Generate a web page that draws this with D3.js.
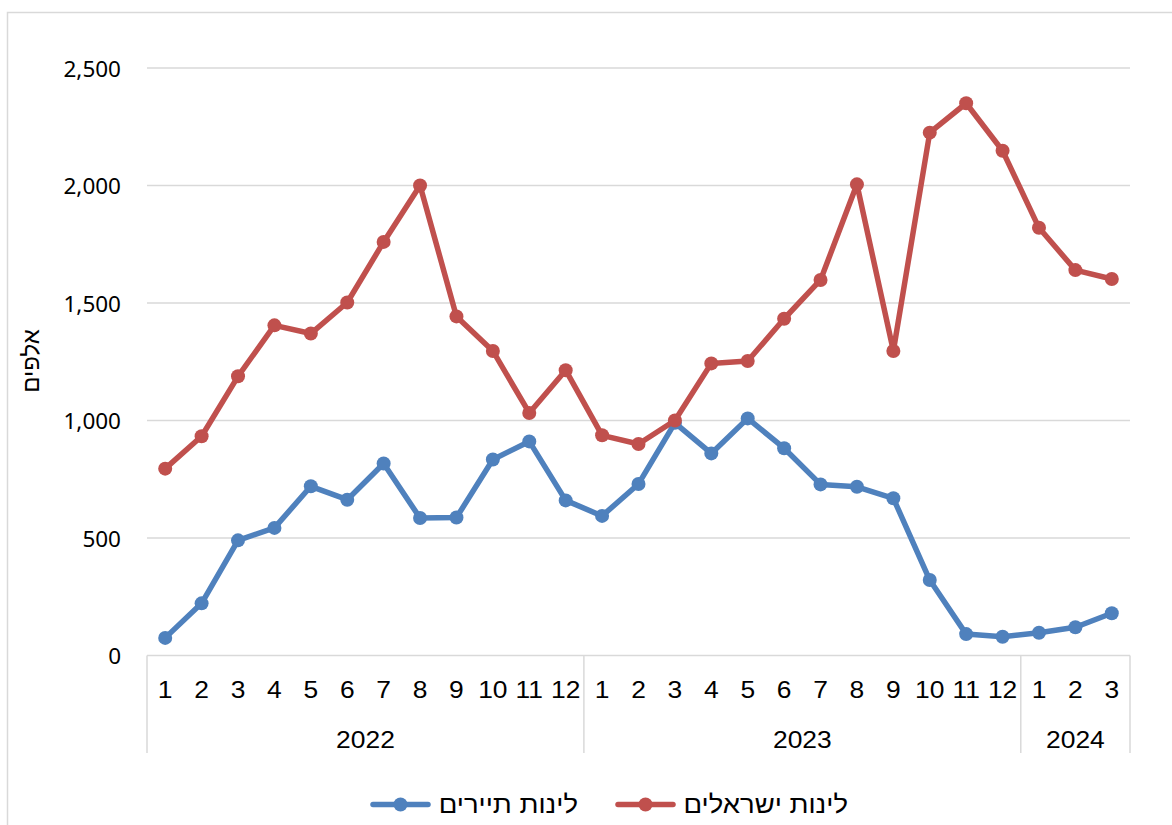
<!DOCTYPE html>
<html>
<head>
<meta charset="utf-8">
<script src="https://cdn.jsdelivr.net/npm/d3@7"></script>
<style>
  html, body { margin: 0; padding: 0; background: #fff; }
  svg { display: block; }
</style>
</head>
<body>
<svg id="chart" width="1172" height="825"></svg>
<script>
// ---- data ----
const years = ["2022", "2023", "2024"];
const monthsPerYear = [12, 12, 3];
const monthLabels = ["1","2","3","4","5","6","7","8","9","10","11","12",
                     "1","2","3","4","5","6","7","8","9","10","11","12",
                     "1","2","3"];
const seriesNames = ["לינות תיירים", "לינות ישראלים"];
const tourists = [75, 222, 490, 543, 720, 663, 817, 585, 587, 834, 911, 660,
                  594, 730, 990, 860, 1009, 882, 728, 718, 669, 321, 91, 80,
                  97, 120, 180];
const israelis = [795, 933, 1188, 1405, 1370, 1502, 1760, 2000, 1443, 1296, 1032, 1214,
                  937, 900, 1000, 1243, 1253, 1433, 1598, 2005, 1296, 2225, 2350, 2148,
                  1820, 1640, 1602];
const yTicks = [0, 500, 1000, 1500, 2000, 2500];
const yTitle = "אלפים";

(function () {
// ---- layout ----
const svg = d3.select("#chart");
const pLeft = 147, pRight = 1130, pTop = 68, pBottom = 655.5;
const colors = ["#4F81BD", "#C0504D"];
const gridColor = "#D9D9D9";
const font = "'Liberation Sans', Arial, sans-serif";
const stretch = 1.1;

// outer border
svg.append("rect").attr("x", 7.5).attr("y", 12.5).attr("width", 1200).attr("height", 900)
  .attr("fill", "none").attr("stroke", gridColor).attr("stroke-width", 1.5);

const idx = d3.range(monthLabels.length);
const x = d3.scaleBand().domain(idx).range([pLeft, pRight]).paddingInner(0).paddingOuter(0);
const cx = i => x(i) + x.bandwidth() / 2;
const y = d3.scaleLinear().domain([0, 2500]).range([pBottom, pTop]);

// gridlines
svg.append("g").selectAll("line").data(yTicks.filter(d => d > 0)).join("line")
  .attr("x1", pLeft).attr("x2", pRight)
  .attr("y1", d => y(d)).attr("y2", d => y(d))
  .attr("stroke", gridColor).attr("stroke-width", 1.5);

// y axis labels
const yAxis = d3.axisLeft(y).tickValues(yTicks).tickSize(0).tickPadding(0)
  .tickFormat(d3.format(","));
const gy = svg.append("g").attr("transform", `translate(121,0)`).call(yAxis);
gy.select(".domain").remove();
gy.selectAll("text").attr("font-family", "'Noto Sans', 'Open Sans', sans-serif")
  .attr("font-size", 22.5).attr("fill", "#000").attr("dy", "0.36em");

// y title
svg.append("text").attr("transform", `translate(39,361) rotate(-90)`)
  .attr("text-anchor", "middle").attr("font-family", font).attr("font-size", 24)
  .attr("fill", "#000").text(yTitle);

// category axis line
svg.append("line").attr("x1", pLeft).attr("x2", pRight).attr("y1", pBottom).attr("y2", pBottom)
  .attr("stroke", gridColor).attr("stroke-width", 1.5);

// month labels via axis
const xAxis = d3.axisBottom(x).tickSize(0).tickPadding(0).tickFormat(i => monthLabels[i]);
const gx = svg.append("g").attr("transform", `translate(0,${pBottom})`).call(xAxis);
gx.select(".domain").remove();
gx.selectAll("text").attr("font-family", font).attr("font-size", 24)
  .attr("fill", "#000").attr("dy", null).attr("y", 42.5)
  .attr("transform", `scale(${stretch},1)`);

// year separators and year labels
let acc = 0;
const bounds = [0];
monthsPerYear.forEach(n => { acc += n; bounds.push(acc); });
const bx = b => b < idx.length ? x(b) : pRight;
svg.append("g").selectAll("line").data(bounds).join("line")
  .attr("x1", bx).attr("x2", bx)
  .attr("y1", pBottom).attr("y2", 753)
  .attr("stroke", gridColor).attr("stroke-width", 1.5);
svg.append("g").selectAll("text").data(years).join("text")
  .attr("transform", (d, k) => `translate(${(bx(bounds[k]) + bx(bounds[k + 1])) / 2},747.5) scale(${stretch},1)`)
  .attr("text-anchor", "middle")
  .attr("font-family", font).attr("font-size", 24).attr("fill", "#000")
  .text(d => d);

// series
const allSeries = [tourists, israelis];
const line = d3.line().x((d, i) => cx(i)).y(d => y(d));
allSeries.forEach((vals, s) => {
  const g = svg.append("g");
  g.append("path").attr("d", line(vals)).attr("fill", "none")
    .attr("stroke", colors[s]).attr("stroke-width", 5.5).attr("stroke-linejoin", "round");
  g.selectAll("circle").data(vals).join("circle")
    .attr("cx", (d, i) => cx(i)).attr("cy", d => y(d)).attr("r", 7)
    .attr("fill", colors[s]);
});

// legend
const legendItems = [
  { x1: 373, x2: 428, textRight: 578 },
  { x1: 618, x2: 673, textRight: 848 }
];
const ly = 804.5;
legendItems.forEach((it, s) => {
  const g = svg.append("g");
  g.append("line").attr("x1", it.x1).attr("x2", it.x2).attr("y1", ly).attr("y2", ly)
    .attr("stroke", colors[s]).attr("stroke-width", 5.5).attr("stroke-linecap", "round");
  g.append("circle").attr("cx", (it.x1 + it.x2) / 2).attr("cy", ly).attr("r", 7).attr("fill", colors[s]);
  g.append("text").attr("transform", `translate(${it.textRight},813) scale(${stretch},1)`)
    .attr("text-anchor", "end")
    .attr("font-family", font).attr("font-size", 25).attr("fill", "#000")
    .text(seriesNames[s]);
});
})();
</script>
</body>
</html>
